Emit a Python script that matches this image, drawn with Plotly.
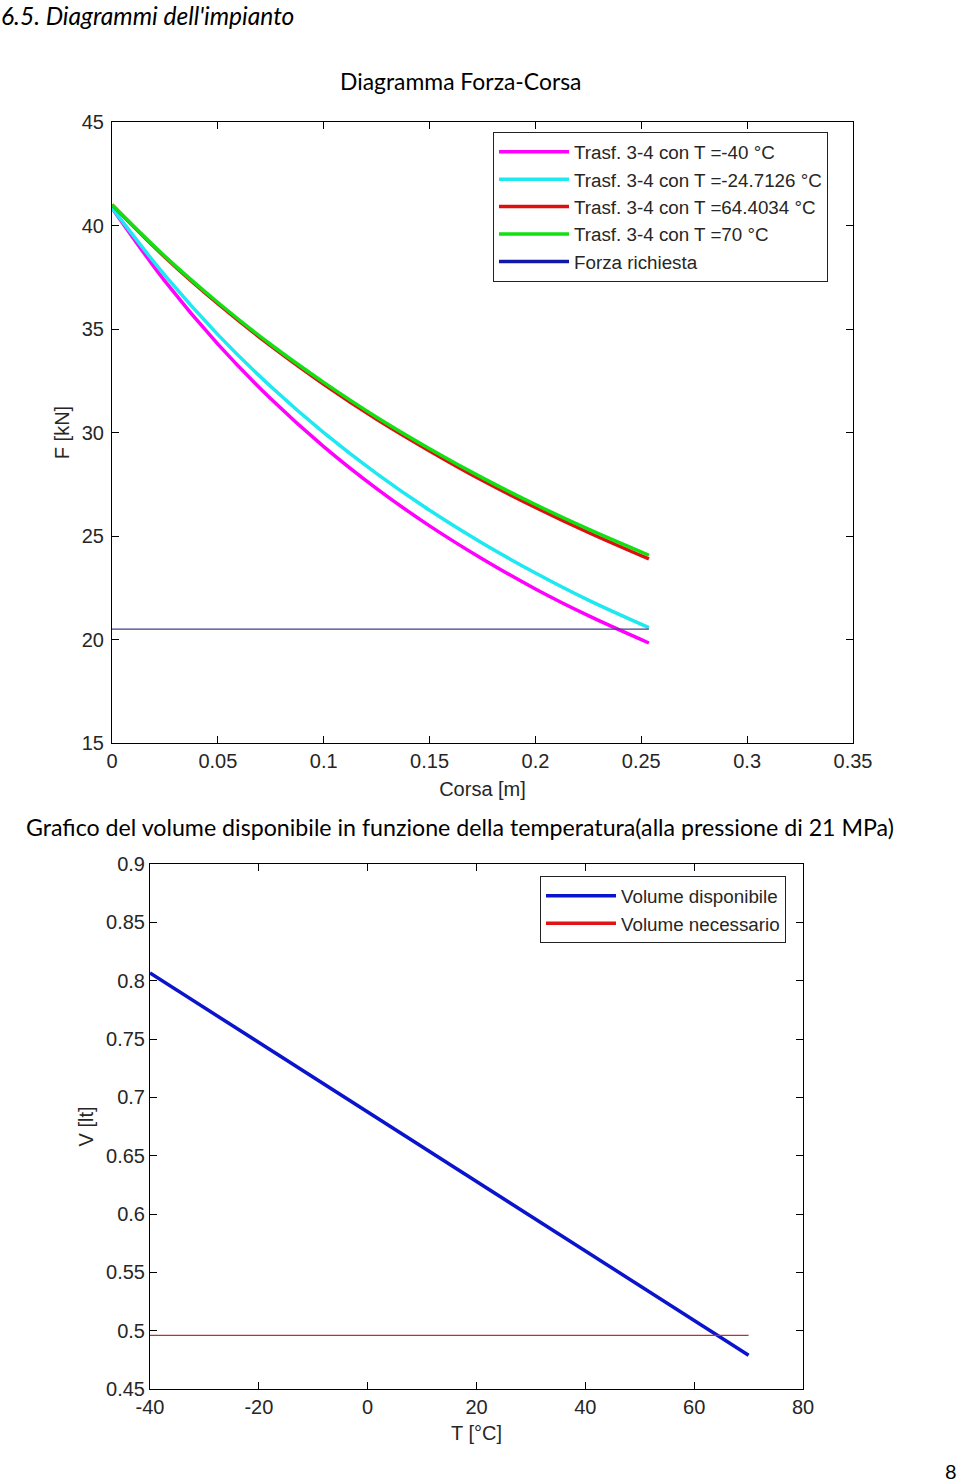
import plotly.graph_objects as go

# ---------------- data: Forza-Corsa ----------------
corsa = [0.0, 0.025, 0.05, 0.075, 0.1, 0.125, 0.15, 0.175, 0.2, 0.225, 0.2536]
f_m40 = [40.85, 37.31, 34.27, 31.63, 29.32, 27.29, 25.49, 23.89, 22.44, 21.15, 19.83]
f_m247 = [40.85, 37.59, 34.73, 32.22, 29.99, 28.01, 26.24, 24.65, 23.21, 21.90, 20.57]
f_644 = [41.0, 38.47, 36.22, 34.18, 32.33, 30.64, 29.11, 27.68, 26.38, 25.17, 23.89]
f_70 = [41.0, 38.51, 36.28, 34.25, 32.42, 30.74, 29.22, 27.81, 26.52, 25.33, 24.07]
forza_x = [0.0, 0.2536]
forza_y = [20.5, 20.5]

names_top = ["Trasf. 3-4 con T =-40 °C", "Trasf. 3-4 con T =-24.7126 °C",
             "Trasf. 3-4 con T =64.4034 °C", "Trasf. 3-4 con T =70 °C", "Forza richiesta"]
x_ticks_top = [0, 0.05, 0.1, 0.15, 0.2, 0.25, 0.3, 0.35]
x_ticktext_top = ["0", "0.05", "0.1", "0.15", "0.2", "0.25", "0.3", "0.35"]
y_ticks_top = [15, 20, 25, 30, 35, 40, 45]

# ---------------- data: Volume-Temperatura ----------------
temp = [-40, 70]
vol_disp = [0.8066, 0.479]
vol_nec = [0.496, 0.496]
names_bot = ["Volume disponibile", "Volume necessario"]
x_ticks_bot = [-40, -20, 0, 20, 40, 60, 80]
x_ticktext_bot = ["-40", "-20", "0", "20", "40", "60", "80"]
y_ticks_bot = [0.45, 0.5, 0.55, 0.6, 0.65, 0.7, 0.75, 0.8, 0.85, 0.9]
y_ticktext_bot = ["0.45", "0.5", "0.55", "0.6", "0.65", "0.7", "0.75", "0.8", "0.85", "0.9"]

W, H = 960, 1484
def px(x):
    return x / W
def py(y):
    return 1 - y / H

AX_FONT = dict(family="Liberation Sans, Arial, sans-serif", size=20, color="#262626")
LEG_FONT = dict(family="Liberation Sans, Arial, sans-serif", size=18.8, color="#262626")
TXT_FONT = "Lato, Carlito, Calibri, sans-serif"

fig = go.Figure()
cols_top = ["#ff00ff", "#1ee8f0", "#dd0f0f", "#13e013", "#1018a8"]
series_top = [f_m40, f_m247, f_644, f_70]
for i, (ys, c) in enumerate(zip(series_top, cols_top[:4])):
    fig.add_trace(go.Scatter(x=corsa, y=ys, mode="lines", name=names_top[i],
                             line=dict(color=c, width=3.5, shape="spline"),
                             xaxis="x", yaxis="y", legend="legend"))
# forza richiesta: thin line in the plot, thick sample in the legend
fig.add_trace(go.Scatter(x=forza_x, y=forza_y, mode="lines", name=names_top[4],
                         line=dict(color="#404080", width=1.2), showlegend=False,
                         xaxis="x", yaxis="y"))
fig.add_trace(go.Scatter(x=[None], y=[None], mode="lines", name=names_top[4],
                         line=dict(color=cols_top[4], width=3.5),
                         xaxis="x", yaxis="y", legend="legend"))

# bottom chart
fig.add_trace(go.Scatter(x=temp, y=vol_disp, mode="lines", name=names_bot[0],
                         line=dict(color="#0a14cc", width=3.5),
                         xaxis="x2", yaxis="y2", legend="legend2"))
fig.add_trace(go.Scatter(x=temp, y=vol_nec, mode="lines", name=names_bot[1],
                         line=dict(color="#b23535", width=1.2), showlegend=False,
                         xaxis="x2", yaxis="y2"))
fig.add_trace(go.Scatter(x=[None], y=[None], mode="lines", name=names_bot[1],
                         line=dict(color="#e01414", width=3.5),
                         xaxis="x2", yaxis="y2", legend="legend2"))

axis_common = dict(showline=True, linecolor="black", linewidth=1, mirror="ticks",
                   ticks="inside", ticklen=7, tickcolor="black", tickwidth=1,
                   showgrid=False, zeroline=False, tickfont=AX_FONT)

fig.update_layout(
    width=W, height=H, autosize=False,
    margin=dict(l=0, r=0, t=0, b=0, autoexpand=False),
    paper_bgcolor="white", plot_bgcolor="white",
    xaxis=dict(domain=[px(112), px(853)], anchor="y", range=[0, 0.35],
               tickvals=x_ticks_top, ticktext=x_ticktext_top,
               title=dict(text="Corsa [m]", font=AX_FONT, standoff=10), **axis_common),
    yaxis=dict(domain=[py(743), py(122)], anchor="x", range=[15, 45],
               tickvals=y_ticks_top, ticklabelstandoff=3,
               title=dict(text="F [kN]", font=AX_FONT, standoff=6), **axis_common),
    xaxis2=dict(domain=[px(150), px(803)], anchor="y2", range=[-40, 80],
                tickvals=x_ticks_bot, ticktext=x_ticktext_bot,
                title=dict(text="T [°C]", font=AX_FONT, standoff=8), **axis_common),
    yaxis2=dict(domain=[py(1389), py(864)], anchor="x2", range=[0.45, 0.9],
                tickvals=y_ticks_bot, ticktext=y_ticktext_bot,
                title=dict(text="V [lt]", font=AX_FONT, standoff=7), **axis_common),
    legend=dict(x=px(493), y=py(132), xanchor="left", yanchor="top",
                bgcolor="white", bordercolor="#222", borderwidth=1,
                font=LEG_FONT, itemwidth=70, traceorder="normal"),
    legend2=dict(x=px(540), y=py(876), xanchor="left", yanchor="top",
                 bgcolor="white", bordercolor="#222", borderwidth=1,
                 font=LEG_FONT, itemwidth=70, traceorder="normal"),
    showlegend=True,
)

annots = [
    dict(text="<i>6.5. Diagrammi dell'impianto</i>", x=px(0), y=py(0), xanchor="left",
         yanchor="top", borderpad=0, font=dict(family=TXT_FONT, size=24.6, color="black")),
    dict(text="Diagramma Forza-Corsa", x=px(460), y=py(81), xanchor="center",
         yanchor="middle", font=dict(family=TXT_FONT, size=22.9, color="black")),
    dict(text="Grafico del volume disponibile in funzione della temperatura(alla pressione di 21 MPa)",
         x=px(24), y=py(827), xanchor="left", yanchor="middle",
         font=dict(family=TXT_FONT, size=23.2, color="black")),
    dict(text="8", x=px(958), y=py(1484), xanchor="right", yanchor="bottom",
         borderpad=0, font=dict(family=TXT_FONT, size=20, color="black")),
]
for a in annots:
    fig.add_annotation(xref="paper", yref="paper", showarrow=False, **a)

fig.write_html("out.html", config={"displayModeBar": False},
               post_script="document.body.style.margin='0';")
